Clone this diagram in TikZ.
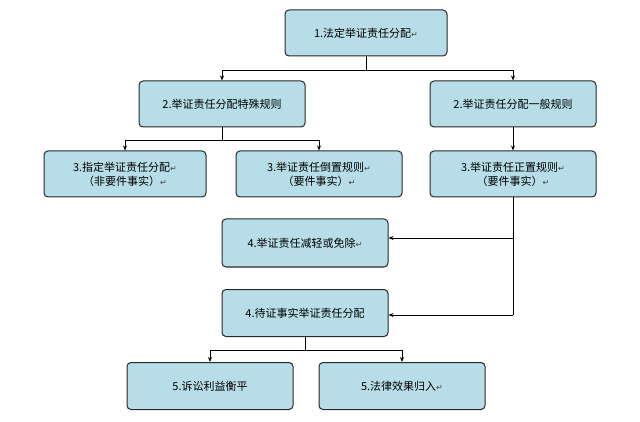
\documentclass[tikz,border=0pt]{standalone}
\usepackage{fontspec}
\newfontfamily\cjk{Noto Sans CJK SC}
\newfontfamily\djv{DejaVu Sans}
\newcommand{\retmk}{{\djv\fontsize{8pt}{10pt}\selectfont\color{darkgray}↵}}
\usetikzlibrary{arrows.meta}
\definecolor{boxfill}{RGB}{183,222,232}
\definecolor{boxline}{RGB}{40,40,40}
\tikzset{
 bx/.style={draw=boxline,line width=1pt,fill=boxfill,rounded corners=4pt,minimum width=166pt,minimum height=46pt,font=\cjk\fontsize{11pt}{14pt}\selectfont,align=center,inner sep=1pt},
 ln/.style={line width=0.9pt,draw=black},
 ar/.style={ln,-{Stealth[length=5pt,width=4pt]}}
}
\begin{document}
\begin{tikzpicture}[x=1pt,y=-1pt]
\useasboundingbox[fill=white] (0,0) rectangle (640,422);
\node[bx,minimum width=162pt] (n1) at (366,33) {1.法定举证责任分配\retmk};
\node[bx] (n2a) at (222,104) {2.举证责任分配特殊规则};
\node[bx] (n2b) at (513,104) {2.举证责任分配一般规则};
\node[bx,minimum width=162pt] (n3a) at (125,174) {3.指定举证责任分配\retmk\\（非要件事实）\retmk};
\node[bx] (n3b) at (319,174) {3.举证责任倒置规则\retmk\\（要件事实）\retmk};
\node[bx] (n3c) at (513,174) {3.举证责任正置规则\retmk\\（要件事实）\retmk};
\node[bx,minimum height=48pt] (n4) at (305,243) {4.举证责任减轻或免除\retmk};
\node[bx,minimum height=47pt] (n4b) at (305,313) {4.待证事实举证责任分配};
\node[bx,minimum height=47pt] (n5a) at (210,386) {5.诉讼利益衡平};
\node[bx,minimum height=47pt] (n5b) at (402,386) {5.法律效果归入\retmk};
\coordinate (j1) at (366,70);
\draw[ln] (n1.south) -- (j1);
\draw[ar] (j1) -| (n2a.north);
\draw[ar] (j1) -| (n2b.north);
\coordinate (j2) at (222,140);
\draw[ln] (n2a.south) -- (j2);
\draw[ar] (j2) -| (n3a.north);
\draw[ar] (j2) -| (n3b.north);
\draw[ar] (n2b.south) -- (n3c.north);
\coordinate (j3) at (513,238);
\coordinate (j4) at (513,315);
\draw[ln] (n3c.south) -- (j4);
\draw[ar] (j3) -- (j3 -| n4.east);
\draw[ar] (j4) -- (j4 -| n4b.east);
\coordinate (j5) at (305,350);
\draw[ln] (n4b.south) -- (j5);
\draw[ar] (j5) -| (n5a.north);
\draw[ar] (j5) -| (n5b.north);
\end{tikzpicture}
\end{document}
